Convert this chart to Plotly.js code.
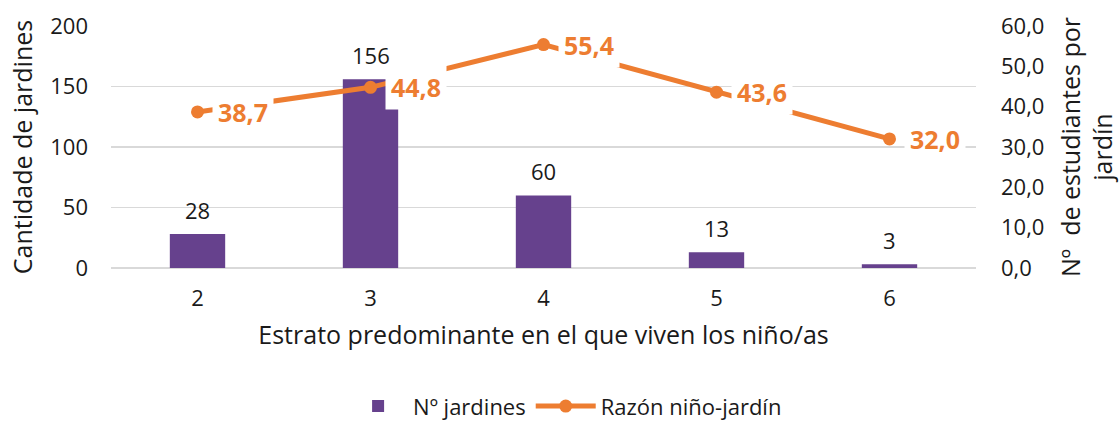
<!DOCTYPE html>
<html>
<head>
<meta charset="utf-8">
<script src="https://cdn.plot.ly/plotly-3.0.1.min.js"></script>
<style>html,body{margin:0;padding:0;background:#fff;}#chart{width:1119px;height:421px;}</style>
</head>
<body>
<div id="chart"></div>
<script>
const categories = ['2', '3', '4', '5', '6'];
const jardines = [28, 156, 60, 13, 3];
const razon = [38.7, 44.8, 55.4, 43.6, 32.0];
const leftTicks = [0, 50, 100, 150, 200];
const rightTicks = [0, 10, 20, 30, 40, 50, 60];

const fmt = v => v.toFixed(1).replace('.', ',');
const FONT = '"Open Sans", Lato, sans-serif';
const PURPLE = '#66418D';
const ORANGE = '#ED7D31';
const TXT = '#1a1a1a';

const traces = [
  {
    type: 'bar', name: 'Nº jardines', x: categories, y: jardines,
    marker: {color: PURPLE}, width: 0.32, hoverinfo: 'x+y'
  },
  {
    type: 'scatter', mode: 'lines+markers', name: 'Razón niño-jardín',
    x: categories, y: razon, yaxis: 'y2',
    line: {color: ORANGE, width: 5}, marker: {color: ORANGE, size: 13}
  }
];

const barLabels = categories.map((c, i) => ({
  x: i, y: jardines[i], xref: 'x', yref: 'y', text: String(jardines[i]),
  showarrow: false, xanchor: 'center', yanchor: 'bottom', yshift: 7,
  font: {family: FONT, size: 22, color: TXT}
}));
const lineLabels = categories.map((c, i) => ({
  x: i, y: razon[i], xref: 'x', yref: 'y2', text: '<b>' + fmt(razon[i]) + '</b>',
  showarrow: false, xanchor: 'left', yanchor: 'middle', xshift: 14,
  bgcolor: '#ffffff', borderpad: 5,
  font: {family: FONT, size: 25, color: ORANGE}
}));

const layout = {
  width: 1119, height: 421,
  margin: {l: 111, r: 143, t: 26, b: 153},
  paper_bgcolor: '#fff', plot_bgcolor: '#fff',
  font: {family: FONT, size: 20, color: TXT},
  xaxis: {
    type: 'category', range: [-0.5, 4.5], automargin: false,
    showgrid: false, showline: false, ticks: '',
    tickfont: {size: 22}, ticklabelstandoff: 15,
    title: {text: 'Estrato predominante en el que viven los niño/as', font: {size: 25}, standoff: 15}
  },
  yaxis: {
    range: [0, 200], tickvals: leftTicks, ticktext: leftTicks.map(String), automargin: false,
    showgrid: true, gridcolor: '#d9d9d9', gridwidth: 1.5, zeroline: true, zerolinecolor: '#d9d9d9', zerolinewidth: 1.5,
    showline: false, ticks: '', tickfont: {size: 22}, ticklabelstandoff: 22,
    title: {text: 'Cantidade de jardines', font: {size: 25}, standoff: 10}
  },
  yaxis2: {
    overlaying: 'y', side: 'right', range: [0, 60], tickvals: rightTicks, ticktext: rightTicks.map(fmt), automargin: false,
    showgrid: false, zeroline: false, showline: false, ticks: '', tickfont: {size: 22}, ticklabelstandoff: 24,
    title: {text: 'Nº  de estudiantes por<br>jardín', font: {size: 25}, standoff: 26}
  },
  legend: {
    orientation: 'h', xref: 'container', yref: 'container',
    x: 0.505, xanchor: 'center', y: 0.035, yanchor: 'middle',
    font: {size: 22}, traceorder: 'normal', itemwidth: 60,
    bgcolor: 'rgba(0,0,0,0)'
  },
  annotations: barLabels.concat(lineLabels),
  showlegend: true
};

Plotly.newPlot('chart', traces, layout, {displayModeBar: false, staticPlot: true});
</script>
</body>
</html>
